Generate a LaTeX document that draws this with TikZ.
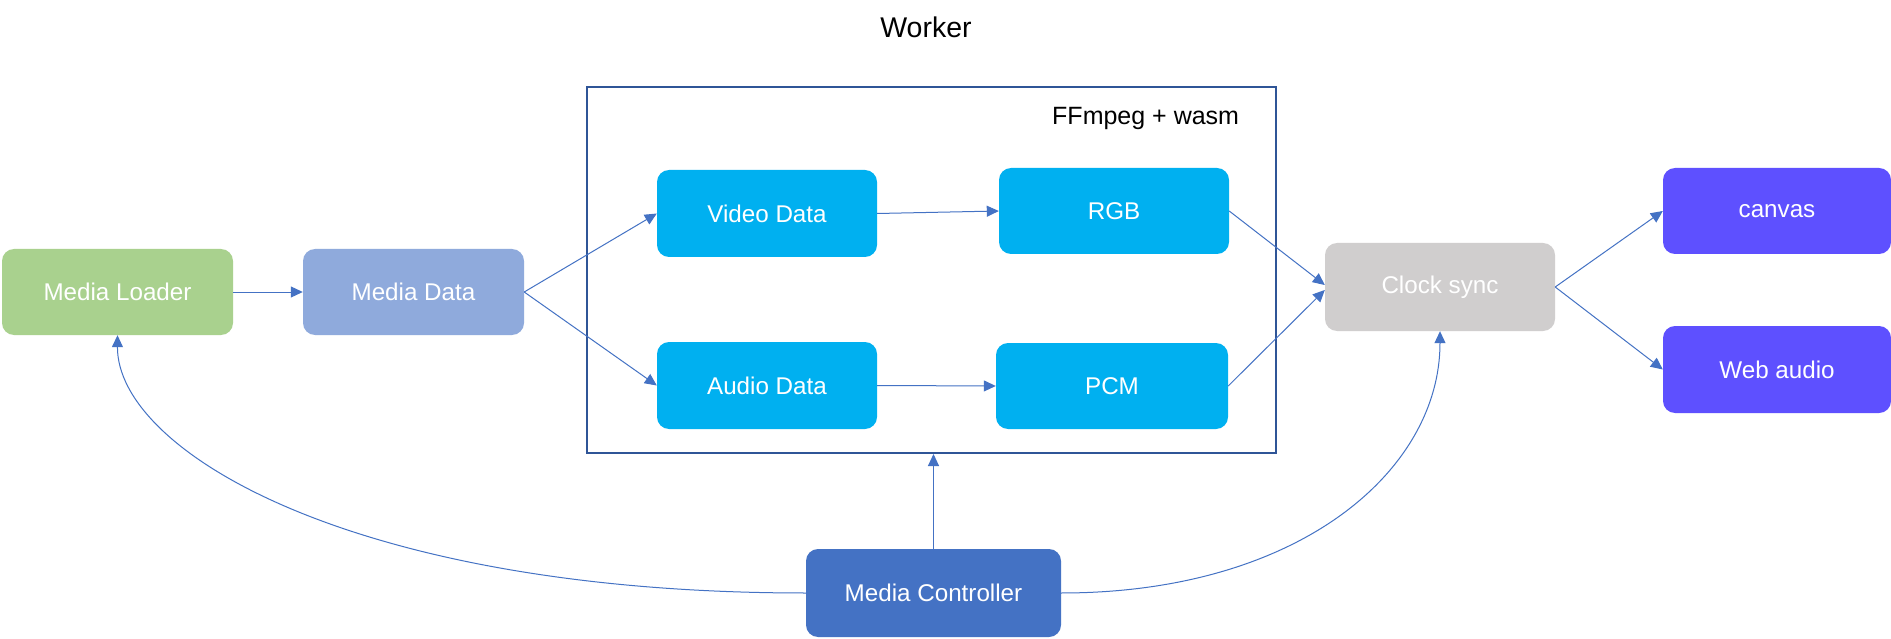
\documentclass[tikz,border=0pt]{standalone}
\usepackage{fontspec}
\setmainfont{Liberation Sans}
\usetikzlibrary{arrows.meta}
\definecolor{cgreen}{HTML}{A9D18E}
\definecolor{cmdata}{HTML}{8FAADC}
\definecolor{ccyan}{HTML}{00B0F0}
\definecolor{cgrey}{HTML}{D0CECE}
\definecolor{cpurple}{HTML}{5E50FF}
\definecolor{cctrl}{HTML}{4472C4}
\definecolor{carrow}{HTML}{4472C4}
\definecolor{couter}{HTML}{2F5597}
\begin{document}
\begin{tikzpicture}[x=1pt,y=-1pt,
  box/.style={rounded corners=12pt, inner sep=0pt, text=white,
    font=\fontsize{24.2}{28}\selectfont},
  arr/.style={draw=carrow, line width=1pt, -{Triangle[length=12pt,width=11pt]}},
  lbl/.style={inner sep=0pt, text=black}]
\useasboundingbox (0,0) rectangle (1891,639);
\fill[white] (0,0) rectangle (1891,639);

\node[lbl, font=\fontsize{28.5}{32}\selectfont] (title) at (926,27) {Worker};
\node[draw=couter, line width=2pt, minimum width=689pt, minimum height=366pt, inner sep=0pt] (outer) at (931.5,270) {};
\node[lbl, anchor=west, font=\fontsize{25}{29}\selectfont] (fflabel) at (1052,118) {FFmpeg + wasm};

\node[box, fill=cgreen, minimum width=231pt, minimum height=86pt] (loader) at (117.5,292) {Media Loader};
\node[box, fill=cmdata, minimum width=221pt, minimum height=86pt] (mdata) at (413.5,292) {Media Data};
\node[box, fill=ccyan, minimum width=220pt, minimum height=87pt] (video) at (767,213.5) {Video Data};
\node[box, fill=ccyan, minimum width=230pt, minimum height=86pt] (rgb) at (1114,211) {RGB};
\node[box, fill=ccyan, minimum width=220pt, minimum height=87pt] (audio) at (767,385.5) {Audio Data};
\node[box, fill=ccyan, minimum width=232pt, minimum height=86pt] (pcm) at (1112,386) {PCM};
\node[box, fill=cgrey, minimum width=230pt, minimum height=88pt] (clock) at (1440,287) {Clock sync};
\node[box, fill=cpurple, minimum width=228pt, minimum height=86pt] (canvas) at (1777,211) {canvas};
\node[box, fill=cpurple, minimum width=228pt, minimum height=87pt] (webaudio) at (1777,369.5) {Web audio};
\node[box, fill=cctrl, minimum width=255pt, minimum height=88pt] (ctrl) at (933.5,593) {Media Controller};

\draw[arr] (loader.east) -- (mdata.west);
\draw[arr] (mdata.east) -- (video.west);
\draw[arr] (mdata.east) -- (audio.west);
\draw[arr] (video.east) -- (rgb.west);
\draw[arr] (audio.east) -- (pcm.west);
\draw[arr] (rgb.east) -- ([yshift=2pt]clock.west);
\draw[arr] (pcm.east) -- ([yshift=-3pt]clock.west);
\draw[arr] (clock.east) -- (canvas.west);
\draw[arr] (clock.east) -- (webaudio.west);
\draw[arr] (ctrl.north) -- (ctrl.north |- outer.south);
\draw[arr] (ctrl.west) .. controls (350,593) and (117,450) .. (loader.south);
\draw[arr] (ctrl.east) .. controls (1300,593) and (1440,470) .. (clock.south);
\end{tikzpicture}
\end{document}
